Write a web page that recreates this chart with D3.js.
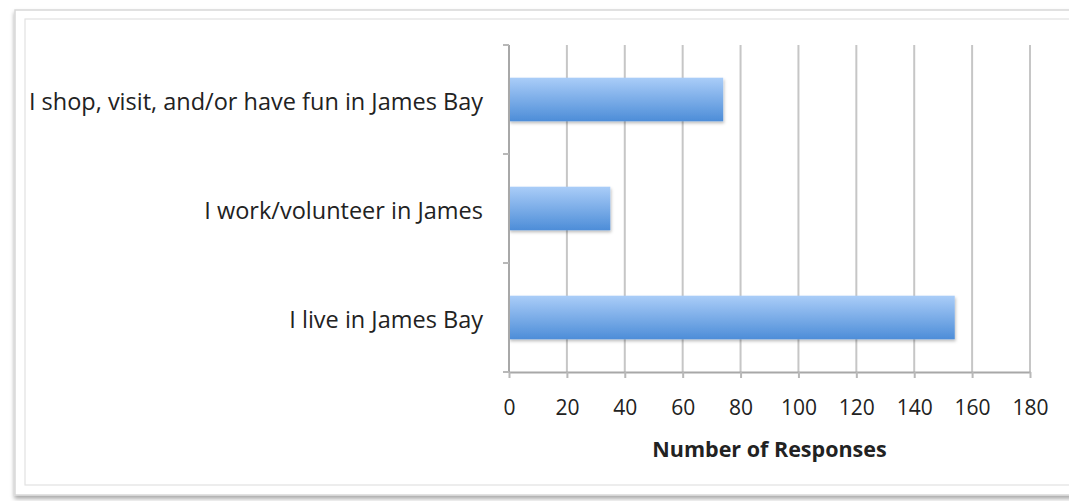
<!DOCTYPE html>
<html>
<head>
<meta charset="utf-8">
<script src="https://cdn.jsdelivr.net/npm/d3@7"></script>
<style>
  html, body { margin: 0; padding: 0; background: #fff; }
  svg { display: block; }
  text { font-family: "Open Sans", Lato, sans-serif; fill: #222; }
</style>
</head>
<body>
<svg id="chart" width="1069" height="501"></svg>
<script>
// Survey responses by connection to the neighbourhood
const categories = [
  "I shop, visit, and/or have fun in James Bay",
  "I work/volunteer in James",
  "I live in James Bay"
];
const responses = [74, 35, 154];
const xTicks = [0, 20, 40, 60, 80, 100, 120, 140, 160, 180];
const xTitle = "Number of Responses";

const svg = d3.select("#chart");
const W = 1069, H = 501;
const plot = { left: 509, right: 1030, top: 45, bottom: 372 };
const tickFont = 21, labelFont = 23.5, titleFont = 21.5;

const defs = svg.append("defs");
const grad = defs.append("linearGradient")
  .attr("id", "barFill").attr("x1", 0).attr("y1", 0).attr("x2", 0).attr("y2", 1);
grad.append("stop").attr("offset", "0%").attr("stop-color", "#aacdf8");
grad.append("stop").attr("offset", "100%").attr("stop-color", "#4d8dd8");

const shadow = defs.append("filter").attr("id", "barShadow")
  .attr("x", "-5%").attr("y", "-20%").attr("width", "115%").attr("height", "150%");
shadow.append("feDropShadow").attr("dx", 1).attr("dy", 2).attr("stdDeviation", 1.5)
  .attr("flood-color", "#000").attr("flood-opacity", 0.25);

const frameShadow = defs.append("filter").attr("id", "frameShadow")
  .attr("x", "-5%").attr("y", "-5%").attr("width", "110%").attr("height", "115%");
frameShadow.append("feDropShadow").attr("dx", 0).attr("dy", 3).attr("stdDeviation", 2)
  .attr("flood-color", "#000").attr("flood-opacity", 0.35);

// Chart frame
svg.append("rect")
  .attr("x", 15).attr("y", 10).attr("width", W + 20).attr("height", 485)
  .attr("fill", "#fff").attr("stroke", "#d8d8d8").attr("stroke-width", 1.5)
  .attr("filter", "url(#frameShadow)");
svg.append("rect")
  .attr("x", 25).attr("y", 19).attr("width", W + 20).attr("height", 466)
  .attr("fill", "#fff").attr("stroke", "#e2e2e2").attr("stroke-width", 1.2);

// Scales
const x = d3.scaleLinear().domain([0, 180]).range([plot.left, plot.right]);
const y = d3.scaleBand().domain(categories)
  .range([plot.top, plot.bottom]).paddingInner(0.6).paddingOuter(0.3);

// Vertical gridlines
svg.append("g").selectAll("line").data(xTicks.filter(d => d > 0)).join("line")
  .attr("x1", d => x(d)).attr("x2", d => x(d))
  .attr("y1", plot.top).attr("y2", plot.bottom)
  .attr("stroke", "#c6c6c6").attr("stroke-width", 2);

// Bars
svg.append("g").selectAll("rect").data(categories).join("rect")
  .attr("x", x(0))
  .attr("y", d => y(d))
  .attr("width", (d, i) => x(responses[i]) - x(0))
  .attr("height", y.bandwidth())
  .attr("fill", "url(#barFill)")
  .attr("filter", "url(#barShadow)");

// X axis
const xAxis = svg.append("g")
  .attr("transform", `translate(0,${plot.bottom})`)
  .call(d3.axisBottom(x).tickValues(xTicks).tickSize(6).tickSizeOuter(0).tickPadding(22));
xAxis.select(".domain").attr("stroke", "#a8a8a8").attr("stroke-width", 2);
xAxis.selectAll(".tick line").attr("stroke", "#b8b8b8").attr("stroke-width", 2);
xAxis.selectAll(".tick text")
  .attr("font-size", tickFont).attr("font-family", "'Open Sans', Lato, sans-serif").attr("fill", "#222");

// Y axis: category boundaries as tick marks
const bounds = d3.range(categories.length + 1).map(i => plot.top + i * y.step());
const yAxisG = svg.append("g");
yAxisG.append("line")
  .attr("x1", x(0)).attr("x2", x(0)).attr("y1", plot.top).attr("y2", plot.bottom)
  .attr("stroke", "#a8a8a8").attr("stroke-width", 2);
yAxisG.selectAll("line.tk").data(bounds).join("line").attr("class", "tk")
  .attr("x1", x(0) - 6).attr("x2", x(0)).attr("y1", d => d).attr("y2", d => d)
  .attr("stroke", "#b8b8b8").attr("stroke-width", 2);

// Category labels
svg.append("g").selectAll("text").data(categories).join("text")
  .attr("x", 483)
  .attr("y", d => y(d) + y.bandwidth() / 2 + 2)
  .attr("dy", "0.35em")
  .attr("text-anchor", "end")
  .attr("font-size", labelFont)
  .text(d => d);

// Axis title
svg.append("text")
  .attr("x", (plot.left + plot.right) / 2)
  .attr("y", 457)
  .attr("text-anchor", "middle")
  .attr("font-size", titleFont)
  .attr("font-weight", "bold")
  .text(xTitle);
</script>
</body>
</html>
